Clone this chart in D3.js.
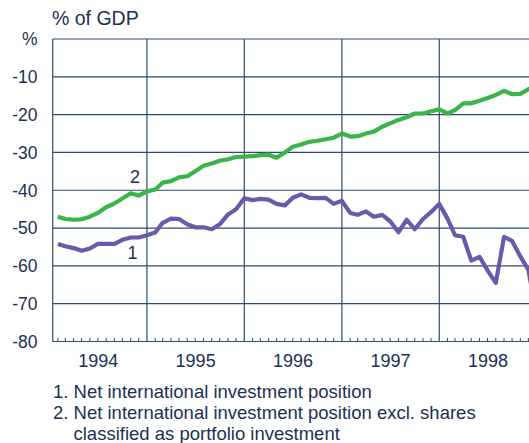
<!DOCTYPE html>
<html>
<head>
<meta charset="utf-8">
<script src="https://cdn.jsdelivr.net/npm/d3@7"></script>
<style>
  body { margin: 0; background: #fff; }
  text { font-family: "Liberation Sans", Arial, sans-serif; fill: #1b3052; }
</style>
</head>
<body>
<svg id="chart"></svg>
<script>
const size = {w: 529, h: 443};
const plot = {l: 52.7, t: 39, b: 341.5};

// monthly end-of-month values, Jan 1994 - Dec 1998
const startYear = 1994;
const yearLabels = ['1994', '1995', '1996', '1997', '1998'];
const yTicks = [0, -10, -20, -30, -40, -50, -60, -70, -80];
const yTickLabels = ['%', '-10', '-20', '-30', '-40', '-50', '-60', '-70', '-80'];

const netPosition = [
  -54.2, -54.8, -55.3, -56.0, -55.4, -54.2, -54.2, -54.2, -53.1, -52.5, -52.5, -51.9,
  -51.2, -48.6, -47.5, -47.6, -49.0, -49.8, -49.8, -50.3, -49.0, -46.4, -45.0, -42.1,
  -42.6, -42.3, -42.5, -43.6, -44.0, -42.0, -41.1, -42.0, -42.1, -42.0, -43.6, -42.8,
  -46.0, -46.5, -45.6, -47.0, -46.5, -48.2, -51.1, -47.8, -50.3, -47.6, -45.8, -43.6,
  -47.5, -51.9, -52.3, -58.6, -57.6, -61.2, -64.5, -52.3, -53.4, -57.5, -61.0, -73.0
];
const netPositionExShares = [
  -47.0, -47.6, -47.8, -47.7, -47.0, -46.0, -44.5, -43.5, -42.2, -40.8, -41.4, -40.3,
  -39.8, -38.0, -37.6, -36.6, -36.3, -35.0, -33.5, -32.9, -32.2, -31.8, -31.2, -31.1,
  -31.0, -30.7, -30.6, -31.4, -30.0, -28.5, -27.9, -27.2, -26.9, -26.5, -26.1, -25.0,
  -25.8, -25.7, -25.0, -24.5, -23.2, -22.3, -21.4, -20.7, -19.7, -19.7, -19.1, -18.6,
  -19.7, -18.8, -17.0, -17.0, -16.3, -15.6, -14.8, -13.7, -14.6, -14.5, -13.3, -12.0
];

const noteLines = [
  {text: '1. Net international investment position', x: 53},
  {text: '2. Net international investment position excl. shares', x: 53},
  {text: 'classified as portfolio investment', x: 73.5}
];

const gridColor = '#2e4a70';
const svg = d3.select('svg#chart')
    .attr('width', size.w)
    .attr('height', size.h);

const x = d3.scaleTime()
    .domain([new Date(startYear, 0, 1), new Date(startYear + 5, 0, 1)])
    .range([49.6, 536.6]);

const y = d3.scaleLinear()
    .domain([0, -80])
    .range([plot.t, plot.b]);

// value k is the end of month k
const dateOf = i => new Date(startYear, i + 1, 1);

svg.append('defs').append('clipPath')
    .attr('id', 'clip')
  .append('rect')
    .attr('x', plot.l)
    .attr('y', plot.t - 5)
    .attr('width', size.w - plot.l)
    .attr('height', plot.b - plot.t + 5);

// horizontal grid
svg.append('g')
    .selectAll('line')
    .data(yTicks)
    .join('line')
    .attr('x1', plot.l)
    .attr('x2', size.w)
    .attr('y1', d => y(d))
    .attr('y2', d => y(d))
    .attr('stroke', gridColor)
    .attr('stroke-width', 1.2);

// year lines
const yearStarts = d3.timeYear.range(new Date(startYear + 1, 0, 1), new Date(startYear + 5, 0, 1));
svg.append('g')
    .selectAll('line')
    .data(yearStarts)
    .join('line')
    .attr('x1', d => x(d))
    .attr('x2', d => x(d))
    .attr('y1', plot.t)
    .attr('y2', plot.b)
    .attr('stroke', gridColor)
    .attr('stroke-width', 1.2);

// monthly ticks on the bottom axis
const months = d3.timeMonth.range(new Date(startYear, 0, 1), new Date(startYear + 5, 0, 1))
    .filter(d => x(d) > plot.l + 2 && d.getMonth() !== 0);
svg.append('g')
    .selectAll('line')
    .data(months)
    .join('line')
    .attr('x1', d => x(d))
    .attr('x2', d => x(d))
    .attr('y1', plot.b)
    .attr('y2', plot.b - 3.5)
    .attr('stroke', gridColor)
    .attr('stroke-width', 1);

// left axis line
svg.append('line')
    .attr('x1', plot.l).attr('x2', plot.l)
    .attr('y1', plot.t).attr('y2', plot.b)
    .attr('stroke', gridColor)
    .attr('stroke-width', 1.2);

// y tick labels
svg.append('g')
    .selectAll('text')
    .data(yTicks)
    .join('text')
    .attr('x', 37.5)
    .attr('y', d => y(d))
    .attr('dy', '0.36em')
    .attr('text-anchor', 'end')
    .style('font-size', '17.5px')
    .text((d, i) => yTickLabels[i]);

// year labels
svg.append('g')
    .selectAll('text')
    .data(yearLabels)
    .join('text')
    .attr('x', (d, i) => (x(new Date(startYear + i, 0, 1)) + x(new Date(startYear + i + 1, 0, 1))) / 2)
    .attr('y', 366.5)
    .attr('text-anchor', 'middle')
    .style('font-size', '18px')
    .text(d => d);

svg.append('text')
    .attr('x', 52)
    .attr('y', 25)
    .style('font-size', '19.5px')
    .text('% of GDP');

// lines
const line = d3.line()
    .x((d, i) => x(dateOf(i)))
    .y(d => y(d));

const linesG = svg.append('g').attr('clip-path', 'url(#clip)');
linesG.append('path')
    .datum(netPositionExShares)
    .attr('d', line)
    .attr('fill', 'none')
    .attr('stroke', '#3ab54a')
    .attr('stroke-width', 4.2)
    .attr('stroke-linejoin', 'round');
linesG.append('path')
    .datum(netPosition)
    .attr('d', line)
    .attr('fill', 'none')
    .attr('stroke', '#6a5aaa')
    .attr('stroke-width', 4.2)
    .attr('stroke-linejoin', 'round');

// series numbers
svg.append('text')
    .attr('x', 135).attr('y', 183)
    .attr('text-anchor', 'middle')
    .style('font-size', '18px')
    .text('2');
svg.append('text')
    .attr('x', 132.5).attr('y', 259)
    .attr('text-anchor', 'middle')
    .style('font-size', '18px')
    .text('1');

// notes
svg.append('g')
    .selectAll('text')
    .data(noteLines)
    .join('text')
    .attr('x', d => d.x)
    .attr('y', (d, i) => 398 + i * 21)
    .style('font-size', '18.5px')
    .text(d => d.text);
</script>
</body>
</html>
